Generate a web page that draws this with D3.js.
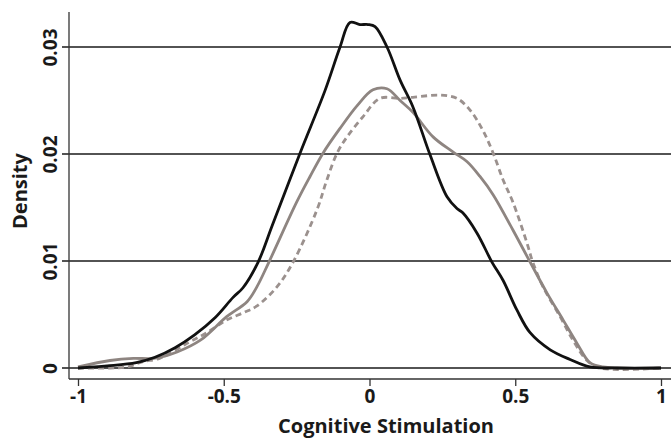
<!DOCTYPE html>
<html><head><meta charset="utf-8">
<script src="https://cdn.jsdelivr.net/npm/d3@7"></script>
<style>body{margin:0;background:#fff}svg{display:block}text{font-family:"Open Sans",sans-serif;font-weight:700;fill:#1a1a1a}</style>
</head><body><svg id="c" width="671" height="441"></svg>
<script>
const xTicks = [-1, -0.5, 0, 0.5, 1];
const yTicks = [0, 0.01, 0.02, 0.03];
const yTickLabels = ["0", "0.01", "0.02", "0.03"];
const blackSeries = [[-1,0],[-0.9,0.0002],[-0.8,0.0005],[-0.736,0.001],[-0.667,0.0019],[-0.6,0.0031],[-0.53,0.0047],[-0.468,0.0066],[-0.434,0.0075],[-0.382,0.0099],[-0.334,0.0133],[-0.238,0.0201],[-0.153,0.0259],[-0.101,0.03],[-0.067,0.0323],[-0.033,0.0321],[-0.005,0.0321],[0.019,0.0319],[0.06,0.03],[0.105,0.0269],[0.149,0.0244],[0.208,0.0199],[0.266,0.016],[0.3,0.0149],[0.32,0.0145],[0.369,0.0126],[0.42,0.0099],[0.458,0.0082],[0.506,0.0054],[0.551,0.0033],[0.62,0.0017],[0.688,0.0008],[0.756,0.0001],[0.85,0],[1,0]];
const graySeries = [[-1,0.0001],[-0.89,0.0007],[-0.81,0.0009],[-0.74,0.0009],[-0.66,0.0015],[-0.58,0.0026],[-0.49,0.0048],[-0.42,0.0062],[-0.386,0.0076],[-0.345,0.0099],[-0.25,0.0155],[-0.204,0.0179],[-0.159,0.0201],[-0.101,0.0224],[-0.043,0.0245],[0.012,0.026],[0.06,0.0261],[0.105,0.025],[0.149,0.0239],[0.218,0.0216],[0.286,0.0202],[0.334,0.0193],[0.379,0.0179],[0.424,0.0162],[0.492,0.0129],[0.551,0.0099],[0.609,0.007],[0.664,0.0045],[0.712,0.0023],[0.756,0.0005],[0.8,0.0001],[1,0]];
const dashedSeries = [[-1,0],[-0.89,0],[-0.83,0.0001],[-0.777,0.0006],[-0.72,0.0009],[-0.626,0.0023],[-0.558,0.0033],[-0.489,0.0045],[-0.43,0.0052],[-0.386,0.0058],[-0.317,0.0076],[-0.262,0.0099],[-0.18,0.0148],[-0.146,0.0176],[-0.111,0.0201],[-0.077,0.0216],[-0.022,0.0235],[0.036,0.0252],[0.105,0.0252],[0.149,0.0253],[0.242,0.0255],[0.3,0.0252],[0.345,0.0241],[0.389,0.0222],[0.424,0.0201],[0.458,0.0176],[0.492,0.0155],[0.54,0.0117],[0.56,0.0099],[0.595,0.0076],[0.654,0.0048],[0.698,0.0026],[0.746,0.0007],[0.79,0],[1,0]];

const svg = d3.select("#c");
const x = d3.scaleLinear().domain([-1, 1]).range([78, 661]);
const y = d3.scaleLinear().domain([0, 0.03]).range([368, 47]);
const axisLeftX = 69, axisBottomY = 379;

// gridlines
svg.append("g").selectAll("line").data(yTicks).join("line")
  .attr("x1", axisLeftX - 7).attr("x2", 671)
  .attr("y1", d => y(d)).attr("y2", d => y(d))
  .attr("stroke", "#1a1a1a").attr("stroke-width", 1.6);

// y axis
const yAxis = d3.axisLeft(y).tickValues(yTicks).tickSize(0).tickFormat((d,i) => yTickLabels[i]);
const ga = svg.append("g").attr("transform", `translate(${axisLeftX},0)`).call(yAxis);
ga.select(".domain").remove();
svg.append("line").attr("x1", axisLeftX).attr("x2", axisLeftX).attr("y1", 12).attr("y2", axisBottomY)
  .attr("stroke", "#333").attr("stroke-width", 1.3);
ga.selectAll(".tick text").attr("transform", "rotate(-90)").attr("x", 0).attr("y", -12)
  .attr("dy", "0").attr("text-anchor", "middle").style("font-size", "19px").attr("fill", "#1a1a1a");

// x axis
const xAxis = d3.axisBottom(x).tickValues(xTicks).tickSize(7).tickFormat(d => d === 0 ? "0" : String(d));
const gx = svg.append("g").attr("transform", `translate(0,${axisBottomY})`).call(xAxis);
gx.select(".domain").remove();
gx.selectAll(".tick line").attr("stroke", "#333").attr("stroke-width", 1.3);
gx.selectAll(".tick text").attr("y", 24).attr("dy", "0").style("font-size", "19px").attr("fill", "#1a1a1a");
svg.append("line").attr("x1", axisLeftX).attr("x2", 671).attr("y1", axisBottomY).attr("y2", axisBottomY)
  .attr("stroke", "#333").attr("stroke-width", 1.3);

// labels
svg.append("text").attr("transform", "translate(27,191) rotate(-90)").attr("text-anchor", "middle")
  .style("font-size", "20px").text("Density");
svg.append("text").attr("x", 386).attr("y", 433).attr("text-anchor", "middle")
  .style("font-size", "20px").text("Cognitive Stimulation");

const line = d3.line().x(d => x(d[0])).y(d => y(d[1])).curve(d3.curveCatmullRom.alpha(0.5));
svg.append("path").datum(dashedSeries).attr("d", line).attr("fill", "none")
  .attr("stroke", "#9b918e").attr("stroke-width", 2.8).attr("stroke-dasharray", "6,4");
svg.append("path").datum(graySeries).attr("d", line).attr("fill", "none")
  .attr("stroke", "#8e8581").attr("stroke-width", 2.8);
svg.append("path").datum(blackSeries).attr("d", line).attr("fill", "none")
  .attr("stroke", "#111").attr("stroke-width", 2.8);
</script></body></html>
